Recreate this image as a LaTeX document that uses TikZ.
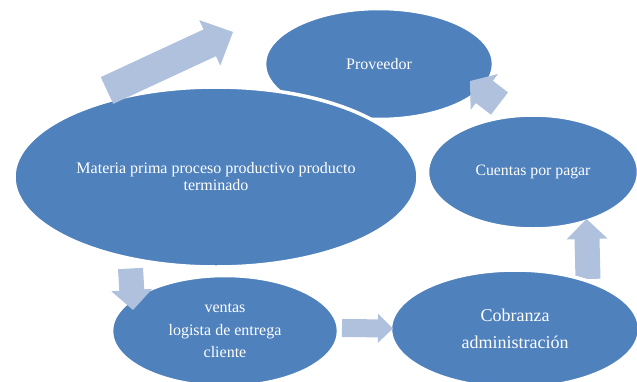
\documentclass[tikz,border=0pt]{standalone}
\usepackage{fontspec}
\setmainfont{Liberation Serif}
\usetikzlibrary{shapes.geometric}
\definecolor{ellblue}{HTML}{4F81BD}
\definecolor{arrblue}{HTML}{B0C1DE}
\tikzset{
  bubble/.style={ellipse, fill=ellblue, draw=white, line width=3.5pt, inner sep=0pt, text=white, align=center},
  arrowfill/.style={fill=arrblue},
}
% block arrow: base x, base y, tip x, tip y, shaft width, head width, head length
\newcommand\blockarr[7]{%
  \pgfmathsetmacro\bxL{veclen(#3-#1,#4-#2)}%
  \pgfmathsetmacro\bxux{(#3-#1)/\bxL}%
  \pgfmathsetmacro\bxuy{(#4-#2)/\bxL}%
  \pgfmathsetmacro\bxnx{-\bxuy}%
  \pgfmathsetmacro\bxny{\bxux}%
  \pgfmathsetmacro\bxhx{#3-#7*\bxux}%
  \pgfmathsetmacro\bxhy{#4-#7*\bxuy}%
  \fill[arrowfill] ({#1+#5/2*\bxnx},{#2+#5/2*\bxny}) -- ({\bxhx+#5/2*\bxnx},{\bxhy+#5/2*\bxny})
    -- ({\bxhx+#6/2*\bxnx},{\bxhy+#6/2*\bxny}) -- (#3,#4)
    -- ({\bxhx-#6/2*\bxnx},{\bxhy-#6/2*\bxny}) -- ({\bxhx-#5/2*\bxnx},{\bxhy-#5/2*\bxny})
    -- ({#1-#5/2*\bxnx},{#2-#5/2*\bxny}) -- cycle;}
\begin{document}
\begin{tikzpicture}[x=1pt,y=-1pt]
\useasboundingbox (0,0) rectangle (637,381);
\clip (0,0) rectangle (637,381);
\fill[white] (0,0) rectangle (637,381);
\node[bubble, minimum width=229pt, minimum height=111pt, font=\fontsize{16}{17}\selectfont] (prov) at (379,64) {Proveedor};
\node[bubble, minimum width=404pt, minimum height=180pt, font=\fontsize{16}{17}\selectfont] (main) at (216,177) {Materia prima proceso productivo producto\\terminado};
\node[bubble, minimum width=211pt, minimum height=114pt, font=\fontsize{15.8}{17}\selectfont] (cuentas) at (533,172) {Cuentas por pagar};
% arrow Cobranza -> Cuentas (under Cobranza)
\blockarr{588}{279}{586.5}{219}{25}{41}{20}
\node[bubble, minimum width=227pt, minimum height=111pt, font=\fontsize{16}{22.5}\selectfont] (ventas) at (225,331) {ventas\\logista de entrega\\cliente};
\node[bubble, minimum width=249pt, minimum height=118pt, font=\fontsize{18}{27}\selectfont] (cobranza) at (515,329) {Cobranza\\administración};
% arrows
\blockarr{107}{90.5}{233}{32}{29.5}{50}{25.6}
\blockarr{499.5}{103.5}{470}{81}{28}{45}{18}
\blockarr{130.5}{268.5}{133}{310}{25}{41}{20}
\blockarr{342}{328}{393}{328.5}{18}{29}{15}
\end{tikzpicture}
\end{document}
